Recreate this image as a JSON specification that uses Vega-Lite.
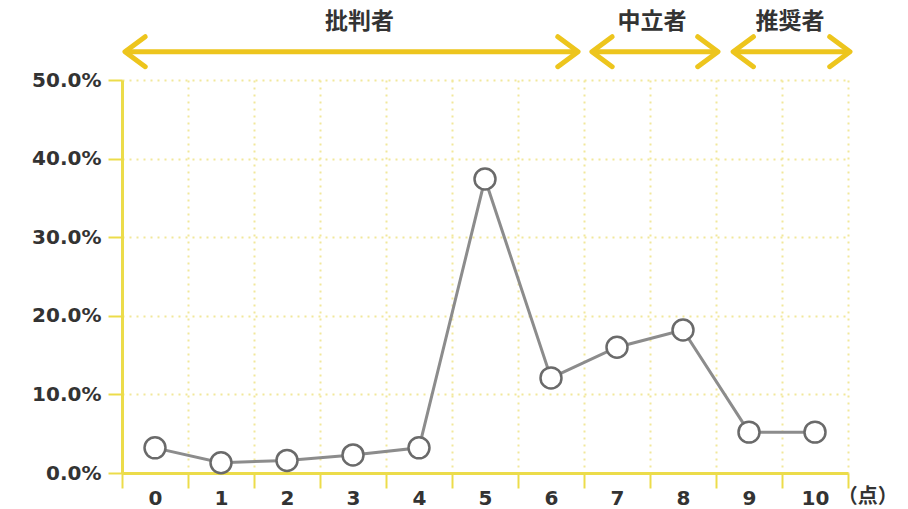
{
  "$schema": "https://vega.github.io/schema/vega-lite/v6.json",
  "width": 726,
  "height": 393,
  "autosize": "none",
  "padding": {"left": 122, "top": 80, "right": 60, "bottom": 36},
  "background": "white",
  "config": {"view": {"stroke": null}},
  "layer": [
    {
      "data": {"values": [
        {"score": 0, "share": 0.032},
        {"score": 1, "share": 0.013},
        {"score": 2, "share": 0.016},
        {"score": 3, "share": 0.023},
        {"score": 4, "share": 0.032},
        {"score": 5, "share": 0.374},
        {"score": 6, "share": 0.121},
        {"score": 7, "share": 0.160},
        {"score": 8, "share": 0.182},
        {"score": 9, "share": 0.052},
        {"score": 10, "share": 0.052}
      ]},
      "encoding": {
        "x": {"field": "score", "type": "ordinal",
          "scale": {"type": "band", "paddingInner": 0, "paddingOuter": 0},
          "axis": {"title": null, "labelAngle": 0, "tickBand": "extent",
            "grid": true, "gridColor": "#f1e89a", "gridDash": [2, 5], "gridWidth": 2,
            "domainColor": "#ecdc4a", "domainWidth": 3,
            "tickColor": "#ecdc4a", "tickWidth": 2, "tickSize": 15,
            "labelFont": "DejaVu Sans", "labelFontSize": 20, "labelFontWeight": "bold",
            "labelColor": "#333333", "labelPadding": 0}},
        "y": {"field": "share", "type": "quantitative",
          "scale": {"domain": [0, 0.5], "nice": false, "zero": true},
          "axis": {"title": null, "values": [0, 0.1, 0.2, 0.3, 0.4, 0.5], "format": ".1%",
            "grid": true, "gridColor": "#f1e89a", "gridDash": [2, 5], "gridWidth": 2,
            "domainColor": "#ecdc4a", "domainWidth": 3,
            "tickColor": "#ecdc4a", "tickWidth": 2, "tickSize": 14,
            "labelFont": "DejaVu Sans", "labelFontSize": 20, "labelFontWeight": "bold",
            "labelColor": "#333333", "labelPadding": 7}}
      },
      "layer": [
        {"mark": {"type": "line", "color": "#8c8c8c", "strokeWidth": 3}},
        {"mark": {"type": "point", "filled": true, "fill": "white", "stroke": "#6a6a6a", "strokeWidth": 2.5, "size": 440, "opacity": 1}}
      ]
    },
    {
      "data": {"values": [
        {"group": "批判者", "start": -0.455, "end": 6.41, "mid": 3.1, "level": 0.536, "labelLevel": 0.574},
        {"group": "中立者", "start": 6.62, "end": 8.53, "mid": 7.53, "level": 0.536, "labelLevel": 0.574},
        {"group": "推奨者", "start": 8.76, "end": 10.53, "mid": 9.62, "level": 0.536, "labelLevel": 0.574}
      ]},
      "layer": [
        {
          "mark": {"type": "rule", "color": "#edc51d", "strokeWidth": 5},
          "encoding": {
            "x": {"field": "start", "type": "quantitative", "scale": {"domain": [-0.5, 10.5], "nice": false, "zero": false}, "axis": null},
            "x2": {"field": "end"},
            "y": {"field": "level", "type": "quantitative", "scale": {"domain": [0, 0.5], "nice": false}, "axis": null}
          }
        },
        {
          "mark": {"type": "point", "shape": "M1.35,-1L0,0L1.35,1", "filled": false, "stroke": "#edc51d", "strokeWidth": 5, "size": 900, "strokeCap": "round", "strokeJoin": "round", "opacity": 1},
          "encoding": {
            "x": {"field": "start", "type": "quantitative", "scale": {"domain": [-0.5, 10.5], "nice": false, "zero": false}, "axis": null},
            "y": {"field": "level", "type": "quantitative", "scale": {"domain": [0, 0.5], "nice": false}, "axis": null}
          }
        },
        {
          "mark": {"type": "point", "shape": "M-1.35,-1L0,0L-1.35,1", "filled": false, "stroke": "#edc51d", "strokeWidth": 5, "size": 900, "strokeCap": "round", "strokeJoin": "round", "opacity": 1},
          "encoding": {
            "x": {"field": "end", "type": "quantitative", "scale": {"domain": [-0.5, 10.5], "nice": false, "zero": false}, "axis": null},
            "y": {"field": "level", "type": "quantitative", "scale": {"domain": [0, 0.5], "nice": false}, "axis": null}
          }
        },
        {
          "mark": {"type": "text", "font": "Noto Sans CJK JP", "fontSize": 23, "fontWeight": "bold", "color": "#333333", "baseline": "middle", "align": "center"},
          "encoding": {
            "x": {"field": "mid", "type": "quantitative", "scale": {"domain": [-0.5, 10.5], "nice": false, "zero": false}, "axis": null},
            "y": {"field": "labelLevel", "type": "quantitative", "scale": {"domain": [0, 0.5], "nice": false}, "axis": null},
            "text": {"field": "group"}
          }
        }
      ]
    },
    {
      "data": {"values": [{"unit": "（点）", "pos": 10.8, "level": -0.031}]},
      "mark": {"type": "text", "font": "Noto Sans CJK JP", "fontSize": 20, "fontWeight": "bold", "color": "#333333", "baseline": "middle", "align": "center"},
      "encoding": {
        "x": {"field": "pos", "type": "quantitative", "scale": {"domain": [-0.5, 10.5], "nice": false, "zero": false}, "axis": null},
        "y": {"field": "level", "type": "quantitative", "scale": {"domain": [0, 0.5], "nice": false}, "axis": null},
        "text": {"field": "unit"}
      }
    }
  ],
  "resolve": {"scale": {"x": "independent", "y": "independent"}}
}
